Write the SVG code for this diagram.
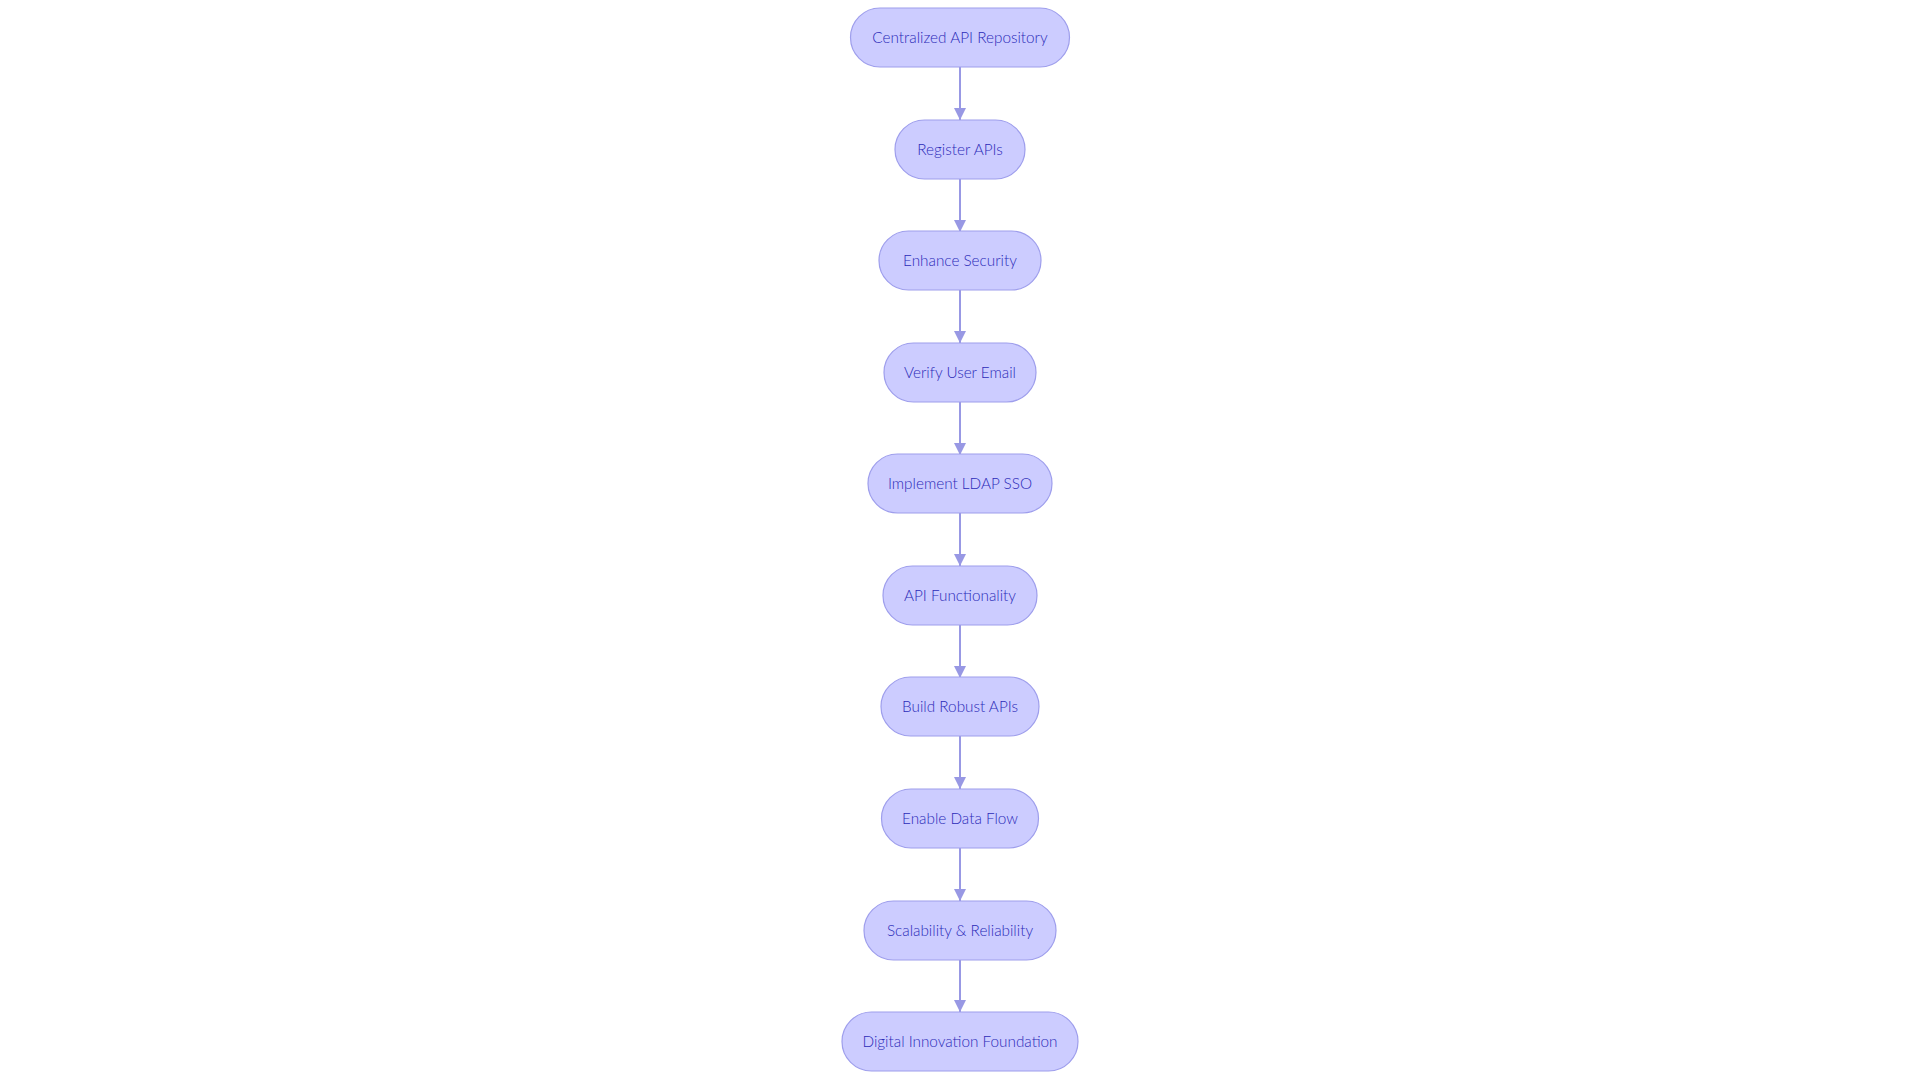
<svg xmlns="http://www.w3.org/2000/svg" width="1920" height="1080" viewBox="0 0 1920 1080">
<style>
.node rect{fill:#CCCCFF;stroke:#9E9EEC;stroke-width:1.2}
.node text{font-family:Lato,"Noto Sans","Liberation Sans",sans-serif;font-size:15.3px;font-weight:300;fill:#2B2BB8;text-anchor:middle;dominant-baseline:central}
.edge{stroke:#9898E4;stroke-width:2;fill:none;marker-end:url(#arr)}
</style>
<defs>
<marker id="arr" viewBox="0 0 10 10" refX="10" refY="5" markerUnits="userSpaceOnUse" markerWidth="13" markerHeight="12" orient="auto">
<path d="M0,0 L10,5 L0,10 z" fill="#9898E4"/>
</marker>
</defs>
<rect width="1920" height="1080" fill="#FFFFFF"/>
<g id="connectors">
<line class="edge" x1="960" y1="67" x2="960" y2="120"/>
<line class="edge" x1="960" y1="179" x2="960" y2="232"/>
<line class="edge" x1="960" y1="290" x2="960" y2="343"/>
<line class="edge" x1="960" y1="402" x2="960" y2="455"/>
<line class="edge" x1="960" y1="513" x2="960" y2="566"/>
<line class="edge" x1="960" y1="625" x2="960" y2="678"/>
<line class="edge" x1="960" y1="736" x2="960" y2="789"/>
<line class="edge" x1="960" y1="848" x2="960" y2="901"/>
<line class="edge" x1="960" y1="959" x2="960" y2="1012"/>
</g>
<g id="n1" class="node"><rect x="850.5" y="8" width="219" height="59" rx="29.5"/><text x="960" y="36.5">Centralized API Repository</text></g>
<g id="n2" class="node"><rect x="895" y="120" width="130" height="59" rx="29.5"/><text x="960" y="148.5">Register APIs</text></g>
<g id="n3" class="node"><rect x="879" y="231" width="162" height="59" rx="29.5"/><text x="960" y="259.5">Enhance Security</text></g>
<g id="n4" class="node"><rect x="884" y="343" width="152" height="59" rx="29.5"/><text x="960" y="371.5">Verify User Email</text></g>
<g id="n5" class="node"><rect x="868" y="454" width="184" height="59" rx="29.5"/><text x="960" y="482.5">Implement LDAP SSO</text></g>
<g id="n6" class="node"><rect x="883" y="566" width="154" height="59" rx="29.5"/><text x="960" y="594.5">API Functionality</text></g>
<g id="n7" class="node"><rect x="881" y="677" width="158" height="59" rx="29.5"/><text x="960" y="705.5">Build Robust APIs</text></g>
<g id="n8" class="node"><rect x="881.5" y="789" width="157" height="59" rx="29.5"/><text x="960" y="817.5">Enable Data Flow</text></g>
<g id="n9" class="node"><rect x="864" y="901" width="192" height="59" rx="29.5"/><text x="960" y="929.5">Scalability &amp; Reliability</text></g>
<g id="n10" class="node"><rect x="842" y="1012" width="236" height="59" rx="29.5"/><text x="960" y="1040.5">Digital Innovation Foundation</text></g>
</svg>
